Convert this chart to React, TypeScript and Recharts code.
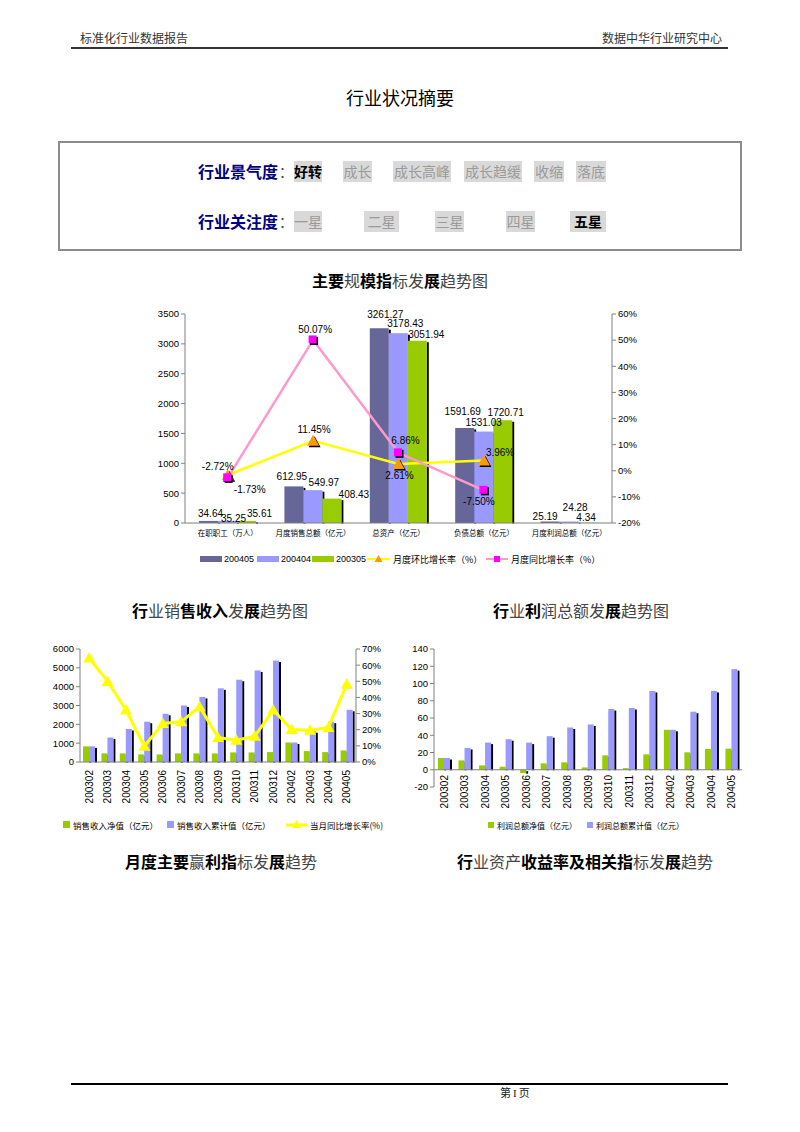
import React from 'react';
import { ComposedChart, Bar, Line, XAxis, YAxis, LabelList, ReferenceLine } from 'recharts';

const FONT_CN = '"Noto Sans CJK SC", "Noto Sans", sans-serif';
const FONT_NUM = '"Liberation Sans", Arial, sans-serif';

// 行业状况摘要
const climateLevels = ['好转', '成长', '成长高峰', '成长趋缓', '收缩', '落底'];
const climateCurrent = '好转';
const attentionLevels = ['一星', '二星', '三星', '四星', '五星'];
const attentionCurrent = '五星';

// 主要规模指标
const scaleCategories = ['在职职工（万人）', '月度销售总额（亿元）', '总资产（亿元）', '负债总额（亿元）', '月度利润总额（亿元）'];
const value200405 = [34.64, 612.95, 3261.27, 1591.69, 25.19];
const value200404 = [35.25, 549.97, 3178.43, 1531.03, 24.28];
const value200305 = [35.61, 408.43, 3051.94, 1720.71, 4.34];
const ringGrowth = [-1.73, 11.45, 2.61, 3.96, null];
const yearGrowth = [-2.72, 50.07, 6.86, -7.5, null];
const scaleLeftTicks = [0, 500, 1000, 1500, 2000, 2500, 3000, 3500];
const scaleRightTicks = [-20, -10, 0, 10, 20, 30, 40, 50, 60];

// 销售收入 / 利润
const months = ['200302', '200303', '200304', '200305', '200306', '200307', '200308', '200309', '200310', '200311', '200312', '200402', '200403', '200404', '200405'];
const salesNet = [830, 456, 456, 403, 403, 456, 456, 456, 509, 509, 526, 1035, 579, 526, 614];
const salesCum = [830, 1298, 1754, 2140, 2561, 3000, 3456, 3912, 4368, 4860, 5386, 1035, 1632, 2140, 2772];
const salesGrowth = [64.4, 49.9, 32.2, 9.8, 23.9, 24.9, 34.3, 15.2, 13.5, 16.0, 32.2, 20.1, 19.7, 21.4, 48.2];
const salesLeftTicks = [0, 1000, 2000, 3000, 4000, 5000, 6000];
const salesRightTicks = [0, 10, 20, 30, 40, 50, 60, 70];
const profitNet = [13.6, 10.9, 5.1, 3.5, -3.9, 7.4, 8.6, 2.7, 16.7, 1.9, 17.9, 46.3, 20.2, 24.1, 24.5];
const profitCum = [13.6, 25.3, 31.5, 35.4, 31.5, 38.9, 49.0, 52.5, 70.4, 71.6, 91.4, 46.3, 67.3, 91.4, 116.7];
const profitTicks = [-20, 0, 20, 40, 60, 80, 100, 120, 140];

const scaleData = scaleCategories.map((name, i) => ({
  name,
  a: value200405[i],
  b: value200404[i],
  c: value200305[i],
  ring: ringGrowth[i],
  year: yearGrowth[i],
}));
const salesData = months.map((month, i) => ({ month, net: salesNet[i], cum: salesCum[i], growth: salesGrowth[i] }));
const profitData = months.map((month, i) => ({ month, net: profitNet[i], cum: profitCum[i] }));

const AXIS = '#808080';

const ShadowBar = (props: any) => {
  const { x, y, width, height, fill } = props;
  if (x == null || !width) return <g />;
  const top = Math.min(y, y + height);
  const h = Math.abs(height);
  return (
    <g>
      <rect x={x + width} y={top + 1.5} width={2} height={Math.max(h - 1, 0)} fill="#000" />
      <rect x={x} y={top} width={width} height={h} fill={fill} />
    </g>
  );
};

// label nudges [dx, lift above bar top] per category, like Excel's hand-placed labels
const darkNudge: [number, number][] = [[2, 7], [-2, 10], [6, 14], [-2, 16], [-5, 5]];
const lightNudge: [number, number][] = [[6, 2], [11, 8], [7, 10], [0, 9], [6, 14]];
const greenNudge: [number, number][] = [[13, 7], [22, 4], [9, 6], [3, 8], [-2, 5]];

const barLabel = (nudge: [number, number][]) => (props: any) => {
  const { x, y, width, value, index } = props;
  if (value == null) return null;
  const [dx, lift] = nudge[index] || [0, 6];
  return (
    <text x={x + width / 2 + dx} y={y - lift} textAnchor="middle" dominantBaseline="central" fontSize={10} fontFamily={FONT_NUM} fill="#000">
      {Number(value).toFixed(2)}
    </text>
  );
};

const ringOffsets: [number, number, string][] = [[22, 14, 'middle'], [1, -11, 'middle'], [1, 12, 'middle'], [2, -8, 'start']];
const yearOffsets: [number, number, string][] = [[-10, -11, 'middle'], [2, -10, 'middle'], [7, -12, 'middle'], [-5, 11, 'middle']];

const lineLabel = (offsets: [number, number, string][]) => (props: any) => {
  const { x, y, value, index } = props;
  if (value == null || x == null) return null;
  const [dx, dy, anchor] = offsets[index] || [0, -10, 'middle'];
  return (
    <text x={x + dx} y={y + dy} textAnchor={anchor as any} dominantBaseline="central" fontSize={10} fontFamily={FONT_NUM} fill="#000">
      {`${Number(value).toFixed(2)}%`}
    </text>
  );
};

const OrangeTriangle = (props: any) => {
  const { cx, cy } = props;
  if (cx == null || cy == null) return <g key={props.key} />;
  return (
    <g key={props.key}>
      <path d={`M${cx + 1.5},${cy - 4.5} L${cx + 7.5},${cy + 6.5} L${cx - 4.5},${cy + 6.5} Z`} fill="#000" />
      <path d={`M${cx},${cy - 6} L${cx + 6},${cy + 5} L${cx - 6},${cy + 5} Z`} fill="#FF9900" />
    </g>
  );
};

const MagentaSquare = (props: any) => {
  const { cx, cy } = props;
  if (cx == null || cy == null) return <g key={props.key} />;
  return (
    <g key={props.key}>
      <rect x={cx - 3} y={cy - 3} width={8} height={8} fill="#000" />
      <rect x={cx - 4.5} y={cy - 4.5} width={8} height={8} fill="#FF00FF" />
    </g>
  );
};

const YellowTriangle = (props: any) => {
  const { cx, cy } = props;
  if (cx == null || cy == null) return <g key={props.key} />;
  return <path key={props.key} d={`M${cx},${cy - 6} L${cx + 6},${cy + 4.5} L${cx - 6},${cy + 4.5} Z`} fill="#FFFF00" />;
};

const monthTick = (shift: number) => (props: any) => {
  const { x, y, payload } = props;
  return (
    <text transform={`translate(${x},${y + shift}) rotate(-90)`} textAnchor="end" dominantBaseline="central" fontSize={10} fontFamily={FONT_NUM} fill="#000">
      {payload.value}
    </text>
  );
};

const numTick = { fontSize: 9.5, fill: '#000', fontFamily: FONT_NUM };

const Title = ({ parts, cx, top }: { parts: [string, boolean][]; cx: number; top: number }) => (
  <div style={{ position: 'absolute', left: cx - 200, width: 400, top, textAlign: 'center', fontSize: 16, lineHeight: '20px', whiteSpace: 'nowrap' }}>
    {parts.map(([t, b], i) => (
      <span key={i} style={{ fontWeight: b ? 'bold' : 'normal', color: b ? '#000' : '#444' }}>{t}</span>
    ))}
  </div>
);

const LevelRow = ({ label, levels, current, cells, top }: { label: string; levels: string[]; current: string; cells: [number, number][]; top: number }) => (
  <>
    <div style={{ position: 'absolute', left: 198, top, height: 21, lineHeight: '21px', fontSize: 16, fontWeight: 'bold', color: '#000080' }}>{label}</div>
    <div style={{ position: 'absolute', left: 279, top, height: 21, lineHeight: '21px', fontSize: 14, color: '#444' }}>：</div>
    {levels.map((lv, i) => (
      <div
        key={lv}
        style={{
          position: 'absolute',
          left: cells[i][0],
          width: cells[i][1],
          top,
          height: 21,
          lineHeight: '21px',
          background: '#D9D9D9',
          fontSize: 14,
          textAlign: 'center',
          whiteSpace: 'nowrap',
          color: lv === current ? '#000' : '#9a9a9a',
          fontWeight: lv === current ? 'bold' : 'normal',
        }}
      >
        {lv}
      </div>
    ))}
  </>
);

const Legends = () => (
  <svg width={800} height={1132} style={{ position: 'absolute', left: 0, top: 0, pointerEvents: 'none' }}>
    <g fontFamily={FONT_NUM} fontSize={9} fill="#000">
      <rect x={200} y={556} width={22} height={6} fill="#666699" />
      <text x={224} y={559} dominantBaseline="central">200405</text>
      <rect x={257} y={556} width={22} height={6} fill="#9999FF" />
      <text x={281} y={559} dominantBaseline="central">200404</text>
      <rect x={312} y={556} width={22} height={6} fill="#99CC00" />
      <text x={336} y={559} dominantBaseline="central">200305</text>
      <line x1={367} x2={390} y1={559} y2={559} stroke="#FFFF00" strokeWidth={2} />
      <path d="M378.5,555 L382.5,562 L374.5,562 Z" fill="#FF9900" />
      <text x={393} y={559} dominantBaseline="central" fontFamily={FONT_CN}>月度环比增长率（%）</text>
      <line x1={486} x2={508} y1={559} y2={559} stroke="#FF99CC" strokeWidth={2} />
      <rect x={494} y={556} width={6} height={6} fill="#FF00FF" />
      <text x={511} y={559} dominantBaseline="central" fontFamily={FONT_CN}>月度同比增长率（%）</text>
    </g>
    <g fontFamily={FONT_CN} fontSize={8.5} fill="#000">
      <rect x={63} y={821} width={7} height={7} fill="#99CC00" />
      <text x={73} y={825} dominantBaseline="central">销售收入净值（亿元）</text>
      <rect x={167} y={821} width={7} height={7} fill="#9999FF" />
      <text x={177} y={825} dominantBaseline="central">销售收入累计值（亿元）</text>
      <line x1={286} x2={307} y1={825} y2={825} stroke="#FFFF00" strokeWidth={3} />
      <path d="M296.5,820 L301,828 L292,828 Z" fill="#FFFF00" />
      <text x={310} y={825} dominantBaseline="central">当月同比增长率(%)</text>
    </g>
    <g fontFamily={FONT_CN} fontSize={8} fill="#000">
      <rect x={488} y={822} width={6} height={6} fill="#99CC00" />
      <text x={497} y={825} dominantBaseline="central">利润总额净值（亿元）</text>
      <rect x={587} y={822} width={6} height={6} fill="#9999FF" />
      <text x={596} y={825} dominantBaseline="central">利润总额累计值（亿元）</text>
    </g>
  </svg>
);

const App: React.FC = () => {
  return (
    <div style={{ position: 'absolute', left: 0, top: 0, width: 800, height: 1132, background: '#fff', fontFamily: FONT_CN, overflow: 'hidden' }}>
      {/* 页眉 */}
      <div style={{ position: 'absolute', left: 80, top: 30, fontSize: 12, lineHeight: '16px', color: '#333' }}>标准化行业数据报告</div>
      <div style={{ position: 'absolute', right: 78, top: 30, fontSize: 12, lineHeight: '16px', color: '#333' }}>数据中华行业研究中心</div>
      <div style={{ position: 'absolute', left: 71, width: 657, top: 47, height: 2, background: '#333' }} />

      <div style={{ position: 'absolute', left: 0, width: 800, top: 86, textAlign: 'center', fontSize: 18, lineHeight: '22px', color: '#000' }}>行业状况摘要</div>

      {/* 摘要框 */}
      <div style={{ position: 'absolute', left: 58, top: 141, width: 680, height: 106, border: '2px solid #8c8c8c' }} />
      <LevelRow label="行业景气度" levels={climateLevels} current={climateCurrent} top={161}
        cells={[[294, 28], [343, 29], [393, 58], [464, 58], [534, 30], [576, 30]]} />
      <LevelRow label="行业关注度" levels={attentionLevels} current={attentionCurrent} top={211}
        cells={[[294, 28], [364, 35], [435, 29], [506, 29], [570, 36]]} />

      <Title cx={400} top={270} parts={[['主要', true], ['规', false], ['模指', true], ['标发', false], ['展', true], ['趋势图', false]]} />

      {/* 主要规模指标发展趋势图 */}
      <div style={{ position: 'absolute', left: 130, top: 300 }}>
        <ComposedChart width={530} height={240} data={scaleData} barGap={0} margin={{ top: 14, right: 0, bottom: 0, left: 0 }}>
          <XAxis dataKey="name" interval={0} height={17} tickLine={false} tickSize={0} tickMargin={8}
            axisLine={{ stroke: AXIS }} tick={{ fontSize: 7.5, fill: '#000', fontFamily: FONT_CN }} />
          <YAxis yAxisId="left" width={55} domain={[0, 3500]} ticks={scaleLeftTicks} interval={0}
            axisLine={{ stroke: AXIS }} tickLine={{ stroke: AXIS }} tickSize={4} tick={numTick} />
          <YAxis yAxisId="right" orientation="right" width={48} domain={[-20, 60]} ticks={scaleRightTicks} interval={0}
            axisLine={{ stroke: AXIS }} tickLine={{ stroke: AXIS }} tickSize={4} tick={numTick} tickFormatter={(v: number) => `${v}%`} />
          <Bar yAxisId="left" dataKey="a" fill="#666699" barSize={19} shape={ShadowBar} isAnimationActive={false}>
            <LabelList dataKey="a" content={barLabel(darkNudge)} />
          </Bar>
          <Bar yAxisId="left" dataKey="b" fill="#9999FF" barSize={19} shape={ShadowBar} isAnimationActive={false}>
            <LabelList dataKey="b" content={barLabel(lightNudge)} />
          </Bar>
          <Bar yAxisId="left" dataKey="c" fill="#99CC00" barSize={19} shape={ShadowBar} isAnimationActive={false}>
            <LabelList dataKey="c" content={barLabel(greenNudge)} />
          </Bar>
          <Line yAxisId="right" dataKey="ring" stroke="#FFFF00" strokeWidth={2.5} dot={OrangeTriangle} activeDot={false} isAnimationActive={false}>
            <LabelList dataKey="ring" content={lineLabel(ringOffsets)} />
          </Line>
          <Line yAxisId="right" dataKey="year" stroke="#FF99CC" strokeWidth={2.5} dot={MagentaSquare} activeDot={false} isAnimationActive={false}>
            <LabelList dataKey="year" content={lineLabel(yearOffsets)} />
          </Line>
        </ComposedChart>
      </div>

      <Title cx={220} top={600} parts={[['行', true], ['业销', false], ['售收入', true], ['发', false], ['展', true], ['趋势图', false]]} />
      <Title cx={581} top={600} parts={[['行', true], ['业', false], ['利', true], ['润总额发', false], ['展', true], ['趋势图', false]]} />

      {/* 行业销售收入发展趋势图 */}
      <div style={{ position: 'absolute', left: 30, top: 640 }}>
        <ComposedChart width={360} height={180} data={salesData} barGap={0} margin={{ top: 9, right: 0, bottom: 0, left: 0 }}>
          <XAxis dataKey="month" interval={0} height={58} tickLine={false} tickSize={0} tickMargin={0}
            axisLine={{ stroke: AXIS }} tick={monthTick(8)} />
          <YAxis yAxisId="left" width={50} domain={[0, 6000]} ticks={salesLeftTicks} interval={0}
            axisLine={{ stroke: AXIS }} tickLine={{ stroke: AXIS }} tickSize={4} tick={numTick} />
          <YAxis yAxisId="right" orientation="right" width={34} domain={[0, 70]} ticks={salesRightTicks} interval={0}
            axisLine={{ stroke: AXIS }} tickLine={{ stroke: AXIS }} tickSize={4} tick={numTick} tickFormatter={(v: number) => `${v}%`} />
          <Bar yAxisId="left" dataKey="net" fill="#99CC00" barSize={6} shape={ShadowBar} isAnimationActive={false} />
          <Bar yAxisId="left" dataKey="cum" fill="#9999FF" barSize={6} shape={ShadowBar} isAnimationActive={false} />
          <Line yAxisId="right" dataKey="growth" stroke="#FFFF00" strokeWidth={3} dot={YellowTriangle} activeDot={false} isAnimationActive={false} />
        </ComposedChart>
      </div>

      {/* 行业利润总额发展趋势图 */}
      <div style={{ position: 'absolute', left: 384, top: 640 }}>
        <ComposedChart width={360} height={180} data={profitData} barGap={0} margin={{ top: 9, right: 2, bottom: 0, left: 0 }}>
          <XAxis dataKey="month" interval={0} height={33} axisLine={false} tickLine={false} tickSize={0} tickMargin={0} tick={monthTick(-12)} />
          <YAxis width={50} domain={[-20, 140]} ticks={profitTicks} interval={0}
            axisLine={{ stroke: AXIS }} tickLine={{ stroke: AXIS }} tickSize={4} tick={numTick} />
          <ReferenceLine y={0} stroke={AXIS} />
          <Bar dataKey="net" fill="#99CC00" barSize={6} shape={ShadowBar} isAnimationActive={false} />
          <Bar dataKey="cum" fill="#9999FF" barSize={6} shape={ShadowBar} isAnimationActive={false} />
        </ComposedChart>
      </div>

      <Legends />

      <Title cx={221} top={851} parts={[['月度主要', true], ['赢', false], ['利指', true], ['标发', false], ['展', true], ['趋势', false]]} />
      <Title cx={585} top={851} parts={[['行', true], ['业资产', false], ['收益率及相关指', true], ['标发', false], ['展', true], ['趋势', false]]} />

      {/* 页脚 */}
      <div style={{ position: 'absolute', left: 71, width: 657, top: 1083, height: 2, background: '#000' }} />
      <div style={{ position: 'absolute', left: 500, top: 1086, fontSize: 11, lineHeight: '14px', letterSpacing: 2, color: '#222', fontFamily: '"Liberation Serif", "Noto Sans CJK SC", serif' }}>第I页</div>
    </div>
  );
};

export default App;
